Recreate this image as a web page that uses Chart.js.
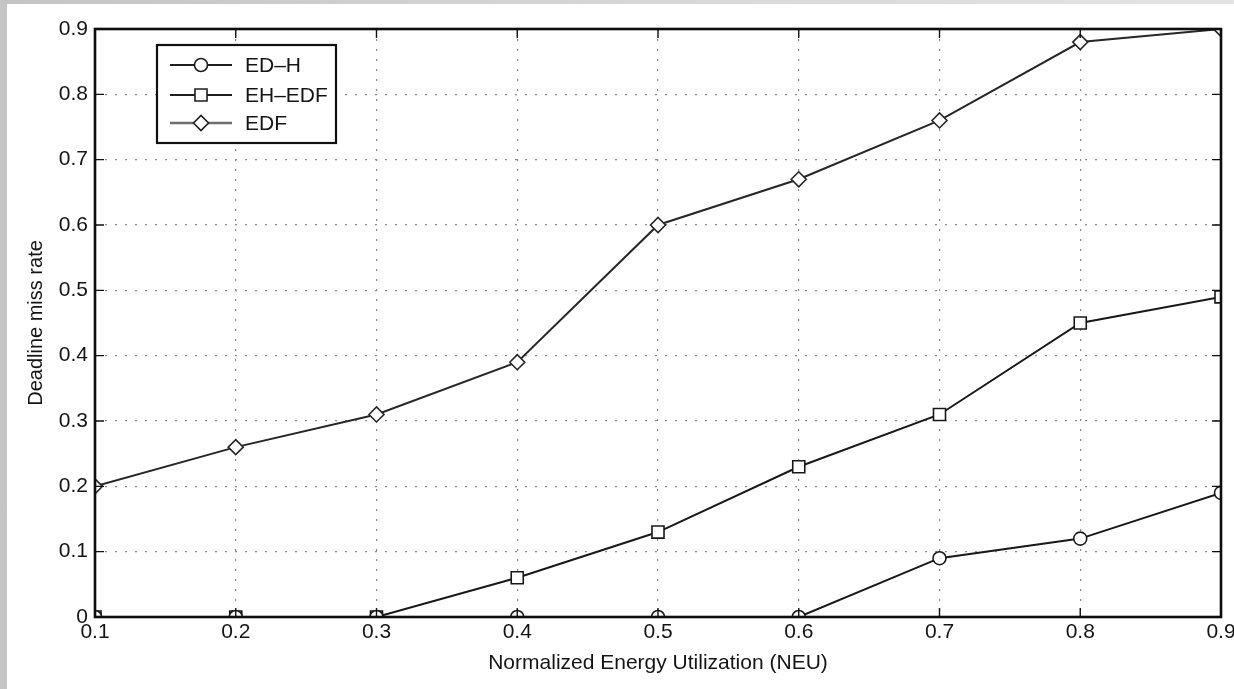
<!DOCTYPE html>
<html>
<head>
<meta charset="utf-8">
<script src="https://cdn.jsdelivr.net/npm/chart.js@4.4.1/dist/chart.umd.min.js"></script>
<style>
  html, body { margin: 0; padding: 0; }
  body { width: 1234px; height: 689px; overflow: hidden;
         background: linear-gradient(90deg, #c4c4c4 0%, #d6d6d6 50%, #e4e4e4 100%); position: relative; }
  #wrap { position: absolute; left: 7px; top: 4px; width: 1227px; height: 685px; background: #fff; }
  canvas { display: block; }
</style>
</head>
<body>
<div id="wrap"><canvas id="c" width="1227" height="685"></canvas></div>
<script>
// ---- data ----
const xValues   = [0.1, 0.2, 0.3, 0.4, 0.5, 0.6, 0.7, 0.8, 0.9];
const edH       = [0, 0, 0, 0, 0, 0, 0.09, 0.12, 0.19];
const ehEdf     = [0, 0, 0, 0.06, 0.13, 0.23, 0.31, 0.45, 0.49];
const edf       = [0.20, 0.26, 0.31, 0.39, 0.60, 0.67, 0.76, 0.88, 0.90];
const seriesLabels = ['ED\u2013H', 'EH\u2013EDF', 'EDF'];
const xTicks    = [0.1, 0.2, 0.3, 0.4, 0.5, 0.6, 0.7, 0.8, 0.9];
const yTicks    = [0, 0.1, 0.2, 0.3, 0.4, 0.5, 0.6, 0.7, 0.8, 0.9];
const xTickLabels = ['0.1','0.2','0.3','0.4','0.5','0.6','0.7','0.8','0.9'];
const yTickLabels = ['0','0.1','0.2','0.3','0.4','0.5','0.6','0.7','0.8','0.9'];
const xTitle = 'Normalized Energy Utilization (NEU)';
const yTitle = 'Deadline miss rate';

const FONT = "'Liberation Sans', Arial, Helvetica, sans-serif";
const TXT = '#141414';

function pts(ys) { return xValues.map((x, i) => ({ x: x, y: ys[i] })); }

const styles = [
  { color: '#181818', point: 'circle',  radius: 6.5 },
  { color: '#181818', point: 'rect',    radius: 8.5 },
  { color: '#262626', point: 'rectRot', radius: 7.5 }
];
const legendLineColors = ['#1e1e1e', '#1e1e1e', '#6e6e6e'];

const datasets = [edH, ehEdf, edf].map((ys, i) => ({
  label: seriesLabels[i],
  data: pts(ys),
  borderColor: styles[i].color,
  borderWidth: 2,
  pointStyle: styles[i].point,
  pointRadius: styles[i].radius,
  pointHoverRadius: styles[i].radius,
  pointBorderColor: styles[i].color,
  pointBackgroundColor: '#ffffff',
  pointBorderWidth: 1.6,
  tension: 0,
  clip: 0
}));

const framePlugin = {
  id: 'frame',
  afterDatasetsDraw(chart) {
    const { ctx, chartArea: a, scales } = chart;
    ctx.save();
    ctx.strokeStyle = '#111';
    ctx.lineWidth = 1.4;
    const L = 9;
    xTicks.forEach(v => {
      const px = scales.x.getPixelForValue(v);
      ctx.beginPath();
      ctx.moveTo(px, a.bottom); ctx.lineTo(px, a.bottom - L);
      ctx.moveTo(px, a.top); ctx.lineTo(px, a.top + L);
      ctx.stroke();
    });
    yTicks.forEach(v => {
      const py = scales.y.getPixelForValue(v);
      ctx.beginPath();
      ctx.moveTo(a.left, py); ctx.lineTo(a.left + L, py);
      ctx.moveTo(a.right, py); ctx.lineTo(a.right - L, py);
      ctx.stroke();
    });
    ctx.lineWidth = 2.6;
    ctx.strokeStyle = '#0d0d0d';
    ctx.strokeRect(a.left, a.top, a.right - a.left, a.bottom - a.top);

    // legend box
    const bx = a.left + 62, by = a.top + 16, bw = 179, bh = 98;
    ctx.fillStyle = '#fff';
    ctx.fillRect(bx, by, bw, bh);
    ctx.lineWidth = 2.2;
    ctx.strokeStyle = '#111';
    ctx.strokeRect(bx, by, bw, bh);
    const rowY = [20, 50, 78];
    chart.data.datasets.forEach((ds, i) => {
      const y = by + rowY[i];
      ctx.strokeStyle = legendLineColors[i];
      ctx.lineWidth = i === 2 ? 2.6 : 1.8;
      ctx.beginPath();
      ctx.moveTo(bx + 13, y); ctx.lineTo(bx + 75, y);
      ctx.stroke();
      ctx.lineWidth = 1.6;
      ctx.strokeStyle = '#1e1e1e';
      ctx.fillStyle = '#fff';
      Chart.helpers.drawPoint(ctx, {
        pointStyle: ds.pointStyle, radius: ds.pointRadius, borderWidth: 1.6, rotation: 0
      }, bx + 44, y);
      ctx.fillStyle = TXT;
      ctx.font = '21px ' + FONT;
      ctx.textBaseline = 'middle';
      ctx.textAlign = 'left';
      ctx.fillText(ds.label, bx + 88, y + 1);
    });
    ctx.restore();
  }
};

new Chart(document.getElementById('c'), {
  type: 'line',
  data: { datasets: datasets },
  plugins: [framePlugin],
  options: {
    responsive: false,
    animation: false,
    layout: { padding: { top: 25, right: 13, left: 17, bottom: 13 } },
    plugins: { legend: { display: false }, tooltip: { enabled: false } },
    scales: {
      x: {
        type: 'linear', min: 0.1, max: 0.9,
        afterBuildTicks: s => { s.ticks = xTicks.map(v => ({ value: v })); },
        afterFit: s => { s.height = 59; s.paddingRight = 0; s.paddingLeft = 0; },
        ticks: {
          autoSkip: false, maxRotation: 0, padding: 3,
          color: TXT, font: { family: FONT, size: 21 },
          callback: (v, i) => xTickLabels[i]
        },
        grid: { color: '#8a8a8a', lineWidth: 1.2, drawTicks: false },
        border: { display: false, dash: [2, 8] },
        title: { display: true, text: xTitle, color: TXT, font: { family: FONT, size: 21 }, padding: { top: 2, bottom: 0 } }
      },
      y: {
        type: 'linear', min: 0, max: 0.9,
        afterBuildTicks: s => { s.ticks = yTicks.map(v => ({ value: v })); },
        afterFit: s => { s.width = 71; s.paddingTop = 0; s.paddingBottom = 0; },
        ticks: {
          autoSkip: false, padding: 7,
          color: TXT, font: { family: FONT, size: 21 },
          callback: (v, i) => yTickLabels[i]
        },
        grid: { color: '#8a8a8a', lineWidth: 1.2, drawTicks: false },
        border: { display: false, dash: [2, 8] },
        title: { display: true, text: yTitle, color: TXT, font: { family: FONT, size: 20 }, padding: { top: 0, bottom: 0 } }
      }
    }
  }
});
</script>
</body>
</html>
